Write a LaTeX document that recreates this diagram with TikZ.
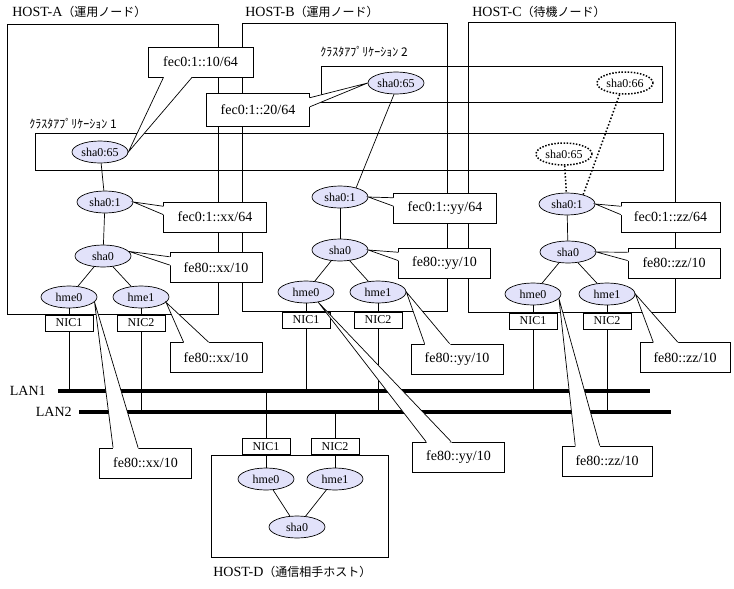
\documentclass[tikz,border=0pt]{standalone}
\usepackage{fontspec}
\setmainfont{Liberation Serif}
\newfontfamily\jpfont{Noto Sans CJK JP}
\usepackage{tikz}
\usetikzlibrary{shapes.geometric}
\usetikzlibrary{calc}
\usepackage{xcolor}
\definecolor{ColIf}{RGB}{226,226,250}
\tikzstyle{HostFrame}=[draw,fill=white]
\tikzstyle{AppFrame}=[draw]
\tikzstyle{HostLabel}=[anchor=west,inner sep=0pt,font=\fontsize{14}{16}\selectfont]
\tikzstyle{AppLabel}=[anchor=west,inner sep=0pt,font=\jpfont\fontsize{12}{14}\selectfont]
\tikzstyle{IfNode}=[ellipse,draw=black,fill=ColIf,inner sep=0pt,minimum width=56pt,minimum height=22pt,
font=\fontsize{12}{12}\selectfont]
\tikzstyle{IfNodeStandby}=[IfNode,fill=white,line width=1.5pt,dash pattern=on 1.5pt off 1.6pt]
\tikzstyle{NicBox}=[draw,fill=white,minimum width=48pt,minimum height=16pt,inner sep=0pt,
font=\fontsize{12}{12}\selectfont]
\tikzstyle{AddrWide}=[draw,fill=white,minimum width=103pt,minimum height=30pt,inner sep=0pt,
font=\fontsize{14}{14}\selectfont]
\tikzstyle{AddrNarrow}=[AddrWide,minimum width=92pt]
\tikzstyle{LanLine}=[line width=4pt]
\tikzstyle{StandbyLink}=[line width=1.5pt,dash pattern=on 1.5pt off 2pt]
\newcommand{\Callout}[4]{%
  \coordinate(calloutP)at($(#2.#3)!0.15!(#2.#4)$);
  \coordinate(calloutQ)at($(#2.#3)!0.42!(#2.#4)$);
  \fill[white]($(calloutP)!-1.5pt!(#1)$)--(#1)--($(calloutQ)!-1.5pt!(#1)$)--cycle;
  \draw(calloutP)--(#1)--(calloutQ);}

\begin{document}
\begin{tikzpicture}[x=1pt,y=-1pt,line width=0.7pt]
        \useasboundingbox(0,0)rectangle(734,589);
        % hosts
        \draw[HostFrame](7,24)rectangle(218,314);
        \draw[HostFrame](242,23)rectangle(447,311);
        \draw[HostFrame](468,22)rectangle(675,312);
        \node[HostLabel](hostA)at(12,12){HOST-A{\jpfont\fontsize{12}{14}\selectfont （運用ノード）}};
        \node[HostLabel](hostB)at(245,12){HOST-B{\jpfont\fontsize{12}{14}\selectfont （運用ノード）}};
        \node[HostLabel](hostC)at(472,12){HOST-C{\jpfont\fontsize{12}{14}\selectfont （待機ノード）}};
        % cluster applications
        \draw[AppFrame](35,133)rectangle(663,170);
        \draw[AppFrame](321,66)rectangle(662,102);
        \node[AppLabel](appOne)at(29,124){ｸﾗｽﾀｱﾌﾟﾘｹｰｼｮﾝ 1};
        \node[AppLabel](appTwo)at(320,52){ｸﾗｽﾀｱﾌﾟﾘｹｰｼｮﾝ 2};
        % LAN
        \coordinate(lanOneW)at(58,391);
        \coordinate(lanOneE)at(650,391);
        \coordinate(lanTwoW)at(79,412);
        \coordinate(lanTwoE)at(671,412);
        \draw[LanLine](lanOneW)--(lanOneE);
        \draw[LanLine](lanTwoW)--(lanTwoE);
        \node[HostLabel,anchor=east](lanOne)at(46,391){LAN1};
        \node[HostLabel,anchor=east](lanTwo)at(72,412){LAN2};
        % host D
        \draw[HostFrame](211,455)rectangle(388,557);
        \node[HostLabel](hostD)at(213,572){HOST-D{\jpfont\fontsize{12}{14}\selectfont （通信相手ホスト）}};
        % host A
        \node[IfNode](aVip1)at(100,152){sha0:65};
        \node[IfNode](aVip)at(105,202){sha0:1};
        \node[IfNode](aSha)at(103,256){sha0};
        \node[IfNode](aHme0)at(69,297){hme0};
        \node[IfNode](aHme1)at(141,297){hme1};
        \node[NicBox](aNic1)at(69,323){NIC1};
        \node[NicBox](aNic2)at(141,323){NIC2};
        % host B
        \node[IfNode](bVip2)at(396,83){sha0:65};
        \node[IfNode](bVip)at(340,197){sha0:1};
        \node[IfNode](bSha)at(340,250){sha0};
        \node[IfNode](bHme0)at(306,292){hme0};
        \node[IfNode](bHme1)at(378,292){hme1};
        \node[NicBox](bNic1)at(306,320){NIC1};
        \node[NicBox](bNic2)at(378,320){NIC2};
        % host C
        \node[IfNodeStandby](cVip2)at(625,83){sha0:66};
        \node[IfNodeStandby](cVip1)at(564,154){sha0:65};
        \node[IfNode](cVip)at(567,204){sha0:1};
        \node[IfNode](cSha)at(568,252){sha0};
        \node[IfNode](cHme0)at(533,294){hme0};
        \node[IfNode](cHme1)at(607,294){hme1};
        \node[NicBox](cNic1)at(533,321){NIC1};
        \node[NicBox](cNic2)at(607,321){NIC2};
        % host D
        \node[NicBox](dNic1)at(266,446.5){NIC1};
        \node[NicBox](dNic2)at(335,446.5){NIC2};
        \node[IfNode](dHme0)at(266,479){hme0};
        \node[IfNode](dHme1)at(335,479){hme1};
        \node[IfNode](dSha)at(297,527){sha0};
        % links
        \draw(aVip1)--(aVip);
        \draw(aVip)--(aSha);
        \draw(aSha)--(aHme0);
        \draw(aSha)--(aHme1);
        \draw(aHme0)--(aNic1);
        \draw(aHme1)--(aNic2);
        \draw(aNic1)--(aNic1|-lanOneW);
        \draw(aNic2)--(aNic2|-lanTwoW);
        \draw(bVip2.-100)--(bVip.30);
        \draw(bVip)--(bSha);
        \draw(bSha)--(bHme0);
        \draw(bSha)--(bHme1);
        \draw(bHme0)--(bNic1);
        \draw(bHme1)--(bNic2);
        \draw(bNic1)--(bNic1|-lanOneW);
        \draw(bNic2)--(bNic2|-lanTwoW);
        \draw[StandbyLink](cVip1)--(cVip);
        \draw[StandbyLink](cVip2.-115)--(cVip.30);
        \draw(cVip)--(cSha);
        \draw(cSha)--(cHme0);
        \draw(cSha)--(cHme1);
        \draw(cHme0)--(cNic1);
        \draw(cHme1)--(cNic2);
        \draw(cNic1)--(cNic1|-lanOneW);
        \draw(cNic2)--(cNic2|-lanTwoW);
        \draw(dNic1)--(dNic1|-lanOneW);
        \draw(dNic2)--(dNic2|-lanTwoW);
        \draw(dNic1)--(dHme0);
        \draw(dNic2)--(dHme1);
        \draw(dHme0)--(dSha);
        \draw(dHme1)--(dSha);
        % addresses
        \node[AddrWide,minimum width=105pt](addrA10)at(200.5,62){fec0:1::10/64};
        \node[AddrWide,minimum height=33pt](addrB20)at(258,109.5){fec0:1::20/64};
        \node[AddrWide](addrAxx)at(215,217){fec0:1::xx/64};
        \node[AddrNarrow](addrAfe)at(216,267.5){fe80::xx/10};
        \node[AddrNarrow](addrAh1)at(216,357.5){fe80::xx/10};
        \node[AddrNarrow](addrAh0)at(145.5,463){fe80::xx/10};
        \node[AddrWide](addrBxx)at(445,208.5){fec0:1::yy/64};
        \node[AddrNarrow](addrBfe)at(444.5,263){fe80::yy/10};
        \node[AddrNarrow](addrBh1)at(457,359){fe80::yy/10};
        \node[AddrNarrow](addrBh0)at(458.5,457){fe80::yy/10};
        \node[AddrWide,minimum width=99pt](addrCxx)at(670.5,217){fec0:1::zz/64};
        \node[AddrNarrow](addrCfe)at(674,263){fe80::zz/10};
        \node[AddrNarrow,minimum width=90pt](addrCh1)at(685,357.5){fe80::zz/10};
        \node[AddrNarrow,minimum width=90pt](addrCh0)at(607,461){fe80::zz/10};
        % callouts
        \Callout{aVip1.east}{addrA10}{south west}{south east}
        \Callout{bVip2.west}{addrB20}{north east}{south east}
        \Callout{aVip.east}{addrAxx}{north west}{south west}
        \Callout{aSha.10}{addrAfe}{north west}{south west}
        \Callout{aHme1.-12}{addrAh1}{north west}{north east}
        \Callout{aHme0.-11}{addrAh0}{north west}{north east}
        \Callout{bVip.east}{addrBxx}{north west}{south west}
        \Callout{bSha.east}{addrBfe}{north west}{south west}
        \Callout{bHme1.east}{addrBh1}{north west}{north east}
        \Callout{bHme0.-40}{addrBh0}{north west}{north east}
        \Callout{cVip.east}{addrCxx}{north west}{south west}
        \Callout{cSha.east}{addrCfe}{north west}{south west}
        \Callout{cHme1.east}{addrCh1}{north west}{north east}
        \Callout{cHme0.-10}{addrCh0}{north west}{north east}
    \end{tikzpicture}
\end{document}
